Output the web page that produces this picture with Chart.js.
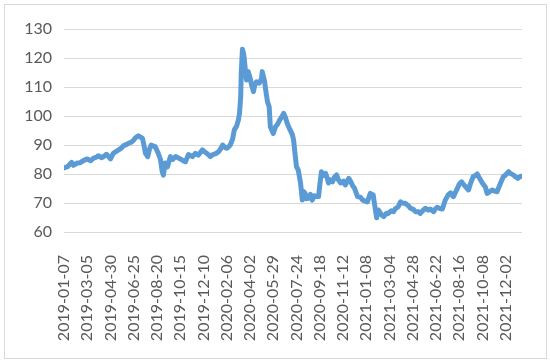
<!DOCTYPE html>
<html>
<head>
<meta charset="utf-8">
<script src="https://cdn.jsdelivr.net/npm/chart.js@4"></script>
<style>
  body { margin: 0; background: #fff; }
  #box { position: absolute; left: 4px; top: 4px; width: 541px; height: 353px; border: 1px solid #d9d9d9; }
  #wrap { position: absolute; left: 0; top: 0; width: 550px; height: 363px; }
</style>
</head>
<body>
<div id="box"></div>
<div id="wrap"><canvas id="chart" width="550" height="363"></canvas></div>
<script>
// tick labels, one every 40 trading days
var tickLabels = ['2019-01-07', '2019-03-05', '2019-04-30', '2019-06-25', '2019-08-20',
  '2019-10-15', '2019-12-10', '2020-02-06', '2020-04-02', '2020-05-29', '2020-07-24',
  '2020-09-18', '2020-11-12', '2021-01-08', '2021-03-04', '2021-04-28', '2021-06-22',
  '2021-08-16', '2021-10-08', '2021-12-02'];

// trading-day index of each reading
var days = [0, 6, 13, 16, 23, 28, 35, 40, 46, 51, 56, 59, 65, 68, 73, 77, 80, 85, 90, 94,
  99, 102, 108, 111, 116, 120, 123, 128, 131, 135, 138, 140, 144, 147, 150, 154, 157, 162,
  166, 169, 171, 174, 178, 183, 187, 192, 197, 200, 205, 209, 214, 218, 221, 226, 231, 238,
  243, 247, 252, 255, 261, 266, 269, 273, 278, 281, 286, 290, 293, 297, 300, 302, 304, 305,
  307, 309, 310, 312, 314, 317, 321, 322, 326, 328, 331, 336, 340, 341, 345, 347, 350, 353,
  355, 360, 364, 367, 371, 374, 378, 381, 384, 389, 393, 395, 398, 400, 403, 407, 410, 412,
  415, 417, 421, 424, 427, 431, 433, 438, 440, 443, 446, 450, 453, 455, 458, 462, 465, 469,
  472, 476, 481, 484, 490, 493, 496, 500, 505, 510, 514, 519, 522, 527, 532, 534, 538, 539,
  541, 546, 550, 555, 558, 563, 567, 570, 575, 579, 582, 587, 593, 596, 601, 605, 610, 613,
  618, 622, 627, 630, 636, 639, 642, 648, 651, 656, 661, 665, 670, 673, 677, 680, 684, 687,
  691, 696, 699, 704, 708, 711, 715, 720, 725, 728, 733, 737, 742, 745, 751, 756, 759, 765,
  768, 773, 777, 781, 784, 788];

var values = [82.1, 82.5, 84.0, 83.0, 83.8, 83.9, 84.8, 85.2, 84.6, 85.5, 85.8, 86.3, 85.6,
  86.0, 86.8, 85.9, 85.2, 87.2, 87.8, 88.3, 89.0, 89.7, 90.2, 90.6, 91.0, 91.7, 92.5, 93.2,
  92.8, 92.3, 89.5, 87.2, 86.0, 88.5, 90.0, 89.6, 89.4, 87.2, 85.0, 80.8, 79.6, 83.8, 82.5,
  86.0, 85.0, 86.0, 85.5, 85.2, 84.6, 84.2, 86.7, 86.3, 86.0, 87.1, 86.5, 88.3, 87.5, 86.9,
  86.0, 86.6, 87.0, 87.7, 88.5, 90.0, 89.0, 88.9, 90.0, 92.0, 95.2, 96.5, 98.6, 101.0, 106.7,
  115.0, 123.0, 121.5, 120.0, 116.0, 112.4, 115.3, 112.5, 111.3, 108.4, 110.5, 111.8, 111.3,
  113.0, 115.3, 112.0, 109.0, 105.0, 103.2, 96.3, 94.0, 96.3, 97.0, 98.6, 99.5, 100.9, 99.5,
  97.5, 95.2, 93.5, 91.7, 86.0, 82.5, 81.4, 76.9, 71.0, 74.0, 73.3, 71.5, 71.6, 73.0, 71.0,
  72.5, 72.2, 72.2, 76.0, 80.8, 79.5, 80.2, 78.5, 76.9, 78.0, 77.3, 78.8, 79.7, 78.0, 76.9,
  77.5, 76.2, 78.5, 77.5, 76.2, 75.0, 72.2, 72.0, 71.0, 70.6, 70.4, 73.3, 72.8, 70.0, 64.9,
  66.0, 67.6, 66.0, 65.3, 66.5, 66.4, 67.3, 67.0, 68.0, 68.7, 70.4, 70.0, 69.9, 69.0, 68.2,
  67.8, 67.0, 67.0, 66.4, 67.5, 68.2, 67.5, 67.9, 67.0, 68.0, 68.5, 68.0, 67.9, 71.0, 72.8,
  73.5, 72.2, 73.5, 75.1, 76.5, 77.3, 76.5, 75.6, 74.5, 76.5, 79.1, 79.5, 80.0, 78.5, 76.8,
  75.5, 73.3, 74.0, 74.5, 74.0, 73.9, 76.8, 79.1, 79.5, 80.8, 80.2, 79.7, 79.0, 78.5, 79.0,
  79.3];

var points = days.map(function (d, i) { return { x: d, y: values[i] }; });

var textColor = '#595959';
var font = { family: 'Lato', size: 16 };

new Chart(document.getElementById('chart'), {
  type: 'line',
  data: {
    datasets: [{
      data: points,
      borderColor: '#5b9bd5',
      borderWidth: 5,
      borderJoinStyle: 'round',
      borderCapStyle: 'round',
      pointRadius: 0,
      tension: 0,
      fill: false
    }]
  },
  options: {
    responsive: false,
    animation: false,
    devicePixelRatio: 1,
    layout: { padding: { top: 29, right: 28, left: 0, bottom: 0 } },
    plugins: { legend: { display: false }, tooltip: { enabled: false } },
    scales: {
      x: {
        type: 'linear',
        min: 0,
        max: 788,
        grid: { display: false },
        border: { display: false },
        afterBuildTicks: function (s) {
          s.ticks = tickLabels.map(function (t, i) { return { value: i * 40 }; });
        },
        afterFit: function (s) { s.height = 131; },
        ticks: {
          autoSkip: false,
          maxRotation: 90,
          minRotation: 90,
          padding: 15,
          color: textColor,
          font: font,
          callback: function (v, i) { return tickLabels[i]; }
        }
      },
      y: {
        min: 60,
        max: 130,
        afterFit: function (s) { s.width = 64; },
        grid: { color: '#d9d9d9', drawTicks: false },
        border: { display: false },
        ticks: { stepSize: 10, padding: 12, color: textColor, font: font }
      }
    }
  }
});
</script>
</body>
</html>
